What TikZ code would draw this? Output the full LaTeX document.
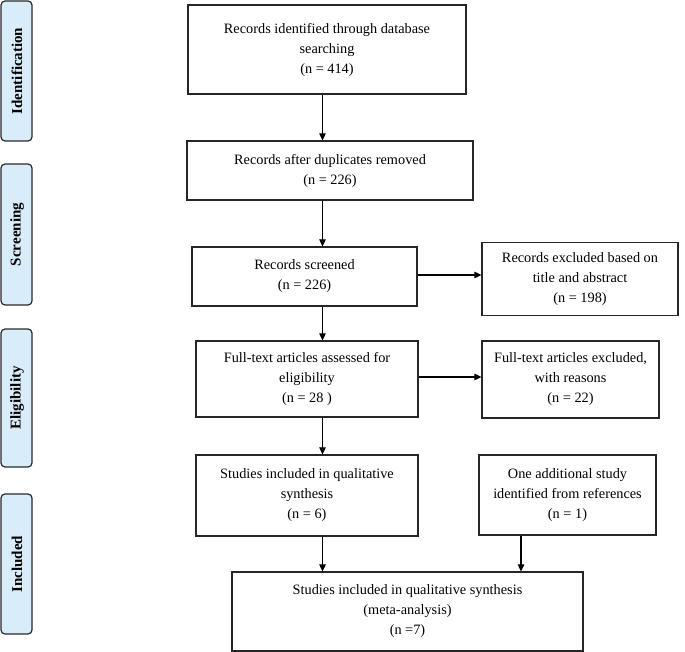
\documentclass[tikz,border=0pt]{standalone}
\usepackage{fontspec}
\setmainfont{Liberation Serif}
\usetikzlibrary{arrows.meta,calc}
\definecolor{barfill}{HTML}{D8ECFA}
\definecolor{barline}{HTML}{2A2A2A}
\tikzset{
  box/.style={draw=black!85, line width=1.2pt, rectangle, align=center, inner sep=0pt,
    font=\fontsize{14.3}{20}\selectfont},
  bar/.style={draw=barline, line width=1.2pt, fill=barfill, rounded corners=4pt},
  barlabel/.style={rotate=90, font=\fontsize{15}{17}\selectfont\bfseries},
  arr/.style={line width=1.1pt, -{Triangle[length=7pt,width=6.5pt]}},
}
\begin{document}
\begin{tikzpicture}[x=1pt,y=-1pt]
\useasboundingbox (0,0) rectangle (685,652);
% side bars
\draw[bar] (1,1) rectangle (32,141);
\node[barlabel] (lid) at (17,71) {Identification};
\draw[bar] (1,164) rectangle (32,305);
\node[barlabel] (lsc) at (17,234.5) {Screening};
\draw[bar] (1,329) rectangle (32,467);
\node[barlabel] (lel) at (17,398) {Eligibility};
\draw[bar] (1,494) rectangle (32,634);
\node[barlabel] (lin) at (17,564) {Included};
% boxes
\node[box, minimum width=278pt, minimum height=89pt] (b1) at (327,49.5)
  {Records identified through database\\searching\\(n = 414)};
\node[box, minimum width=286pt, minimum height=59pt] (b2) at (330,170.5)
  {Records after duplicates removed\\(n = 226)};
\node[box, minimum width=225pt, minimum height=59pt] (b3) at (304.5,276.5)
  {Records screened\\(n = 226)};
\node[box, minimum width=196pt, minimum height=73pt] (e1) at (580,279)
  {Records excluded based on\\title and abstract\\(n = 198)};
\node[box, minimum width=222pt, minimum height=76pt] (b4) at (307,379)
  {Full-text articles assessed for\\eligibility\\(n = 28 )};
\node[box, minimum width=177pt, minimum height=77pt] (e2) at (570.5,379.5)
  {Full-text articles excluded,\\with reasons\\(n = 22)};
\node[box, minimum width=222pt, minimum height=81pt] (b5) at (307,495.5)
  {Studies included in qualitative\\synthesis\\(n = 6)};
\node[box, minimum width=177pt, minimum height=80pt] (ad) at (567.5,495)
  {One additional study\\identified from references\\(n = 1)};
\node[box, minimum width=351pt, minimum height=79pt] (fin) at (407.5,611.5)
  {Studies included in qualitative synthesis\\(meta-analysis)\\(n =7)};
% connectors
\coordinate (cx) at (322.5,0);
\coordinate (rx) at (521,0);
\draw[arr] (b1.south -| cx) -- (b2.north -| cx);
\draw[arr] (b2.south -| cx) -- (b3.north -| cx);
\draw[arr] (b3.south -| cx) -- (b4.north -| cx);
\draw[arr] (b4.south -| cx) -- (b5.north -| cx);
\draw[arr] (b5.south -| cx) -- (fin.north -| cx);
\draw[arr] (ad.south -| rx) -- (fin.north -| rx);
\draw[arr] ($(b3.east)+(0,-1.5)$) -- ($(b3.east -| e1.west)+(0,-1.5)$);
\draw[arr] ($(b4.east)+(0,-2)$) -- ($(b4.east -| e2.west)+(0,-2)$);
\end{tikzpicture}
\end{document}
